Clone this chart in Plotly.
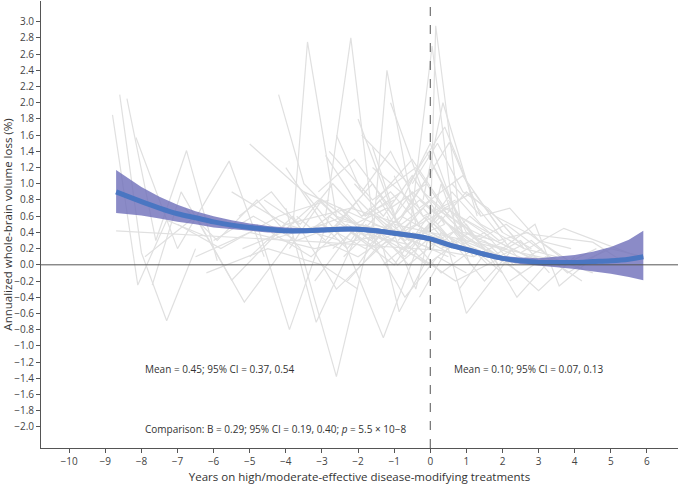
import plotly.graph_objects as go

# Individual patient trajectories (years, annualized loss %)
traj_years = [
    [-8.8, -8.1, -7.3, -6.2], [-8.6, -8.0, -7.3, -6.5], [-8.7, -6.0, -3.0, 0.2],
    [-8.4, -7.6, -6.75, -5.9], [-8.15, -7.0, -5.57, -4.6], [-7.7, -6.9, -5.5, -4.0, -2.5],
    [-7.9, -6.5, -5.15, -3.8], [-5.0, -3.5, -2.0, -0.5], [-4.2, -3.5, -2.5, -1.0, 0.5],
    [-2.9, -1.8, -0.8, 0.6], [-4.8, -3.9, -2.8, -1.5], [-4.0, -3.16, -2.0, -0.6],
    [-3.6, -2.6, -1.6, 0.0], [0.0, 0.15, 0.9, 2.0], [-0.6, 0.05, 0.7, 1.6],
    [-1.6, -1.2, -0.4, 0.8], [-3.8, -3.4, -2.6, -1.4], [-2.9, -2.2, -1.5, -0.4],
    [-1.6, -0.9, 0.53, 1.3, 2.4], [-1.3, -0.86, 0.3, 1.5], [-0.5, 0.5, 1.0, 2.2],
    [1.5, 2.2, 3.0, 4.0], [2.0, 2.9, 3.57, 4.4], [1.8, 2.74, 4.5, 5.3],
    [2.5, 3.7, 5.7], [-0.1, 0.8, 1.8, 3.2], [-6.5, -5.0, -3.2, -1.5],
    [-5.5, -4.0, -2.2, -0.8], [-6.2, -4.5, -3.0, -2.0], [-4.5, -3.0, -1.8, -0.3, 1.0],
    [-3.0, -2.0, -1.0, 0.0, 1.2], [-2.5, -1.5, -0.5, 0.5, 1.5], [-2.0, -1.2, -0.3, 0.7, 2.0],
    [-1.8, -0.7, 0.2, 1.1, 2.5], [-3.5, -2.4, -1.3, -0.2, 0.9], [-1.0, -0.2, 0.6, 1.4, 2.6],
    [-2.2, -1.4, -0.6, 0.3, 1.2, 2.1], [-0.8, 0.1, 1.0, 1.9, 3.0], [-1.5, -0.5, 0.4, 1.6],
    [-4.0, -2.8, -1.6, -0.6, 0.4], [0.2, 1.0, 1.8, 2.6, 3.5], [0.5, 1.3, 2.1, 3.3, 4.5],
    [-0.3, 0.6, 1.5, 2.3], [-5.0, -3.8, -2.6, -1.2, 0.0], [-7.0, -5.8, -4.2, -2.8],
    [-2.6, -1.9, -1.1, -0.2, 0.7], [-1.2, -0.4, 0.3, 1.1], [-3.2, -2.2, -1.0, 0.1],
    [1.0, 1.9, 2.8, 3.8, 4.9], [3.0, 4.0, 5.0, 5.9], [-0.7, 0.4, 1.2, 2.0, 2.8],
    [-2.0, -1.0, 0.0, 0.9], [-0.2, 0.35, 1.3], [-1.1, -0.2, 0.8, 1.7],
    [-5.3, -4.4, -3.5, -2.4, -1.3], [-6.8, -5.9, -4.8, -3.6], [-3.9, -3.0, -2.1, -1.2, -0.3],
    [-1.4, -0.6, 0.2, 1.0, 1.8], [0.8, 1.6, 2.4, 3.2], [2.2, 3.2, 4.2],
    [-3.0, -2.3, -1.5, -0.7, 0.1, 0.9], [-2.4, -1.7, -0.9, -0.1, 0.7],
    [-1.9, -1.1, -0.3, 0.5, 1.3, 2.1], [-3.4, -2.5, -1.7, -0.8, 0.0],
    [-2.7, -1.9, -1.0, -0.1, 0.8, 1.7], [-1.7, -0.8, 0.0, 0.9, 1.8, 2.7],
    [-4.4, -3.3, -2.3, -1.3, -0.4], [-0.9, -0.1, 0.7, 1.5, 2.3, 3.1],
    [-2.1, -1.3, -0.5, 0.4], [-3.7, -2.9, -2.0, -1.1, -0.2, 0.6],
    [-1.3, -0.5, 0.3, 1.2, 2.0], [0.1, 0.9, 1.7, 2.5, 3.3],
    [-2.8, -1.6, -0.4, 0.5], [-1.9, -0.6, 0.4, 1.4],
    [-4.6, -3.6, -2.7, -1.9, -1.0], [-0.4, 0.4, 1.1, 1.9, 2.7, 3.6],
    [-2.3, -1.5, -0.7, 0.2, 1.0], [-3.1, -2.1, -1.1, -0.1],
    [0.3, 1.1, 1.9, 2.8, 3.7, 4.6], [-1.6, -0.3, 0.9, 2.0],
    [-6.0, -4.9, -3.7, -2.5], [-5.2, -4.1, -3.1, -1.9],
    [0.6, 1.4, 2.2, 3.0, 3.9], [-0.5, 0.2, 0.9, 1.6, 2.4],
    [-1.0, 0.0, 1.0, 2.0, 3.0, 4.0],
]
traj_values = [
    [1.85, -0.25, 0.55, 0.35], [2.1, 0.15, -0.69, 0.2], [0.42, 0.35, 0.28, 0.18],
    [2.05, 0.3, 1.41, 0.05], [1.57, 0.2, 1.28, 0.1], [-0.25, 0.9, -0.19, 0.5, 0.3],
    [0.1, 0.6, -0.46, 0.35], [1.49, 0.9, 0.6, 0.3], [2.1, 1.0, 0.55, 0.4, 0.1],
    [1.35, 0.6, 0.9, 0.2], [0.5, -0.8, 0.6, 0.2], [0.7, -0.71, 0.4, 0.25],
    [0.2, -1.38, 0.5, 0.3], [0.4, 2.95, 0.3, 0.1], [0.3, 2.7, 0.4, 0.0],
    [0.3, 2.4, 0.5, 0.2], [0.5, 2.75, 0.6, 0.4], [0.6, 2.8, 0.2, 0.5],
    [1.45, 0.5, 1.51, 0.71, 0.1], [0.2, -0.58, 0.4, 0.1], [0.4, 0.2, -0.6, 0.1],
    [0.3, 0.0, -0.32, 0.1], [0.2, 0.5, -0.26, 0.05], [0.6, 0.38, 0.28, 0.05],
    [0.15, 0.45, 0.11], [1.39, 0.6, 0.3, 0.0], [0.1, 0.4, 0.2, 0.35],
    [0.9, 0.5, 0.7, 0.5], [-0.1, 0.2, 0.0, -0.3], [0.3, 0.5, 0.2, 0.8, 0.3],
    [0.3, 0.1, 0.4, 0.2, 0.1], [0.7, 0.3, 0.9, 0.5, 0.2], [0.0, 0.5, 0.1, -0.2, 0.1],
    [0.5, 0.1, 0.6, 0.3, -0.1], [0.9, 0.3, -0.9, 0.4, 0.2], [1.1, 0.4, 0.9, 0.5, 0.2],
    [0.3, 0.8, 0.2, 0.6, 0.1, 0.3], [0.6, 1.2, 0.4, 0.2, 0.0], [0.8, 1.3, 0.7, 0.4],
    [1.2, 0.4, 1.0, 0.3, 0.5], [0.5, 0.9, 0.6, 0.2, 0.1], [0.8, 0.3, 0.5, 0.1, -0.1],
    [-0.4, 0.3, -0.2, 0.2], [0.1, 0.6, -0.3, 0.3, 0.0], [0.5, 0.2, 0.6, 0.8],
    [1.6, 0.9, 1.4, 0.6, 0.8], [0.6, -0.3, 1.0, 0.0], [-0.2, 0.4, 0.0, 0.7],
    [0.4, 0.1, 0.3, -0.1, 0.2], [0.3, 0.0, 0.2, 0.1], [0.2, 0.7, 0.9, 0.4, 0.2],
    [1.8, 0.6, 1.5, 0.4], [0.8, 2.0, 0.6], [2.0, 0.9, 0.5, 0.3],
    [0.6, 0.9, 0.4, 0.6, 0.3], [0.7, 0.3, 0.8, 0.2], [0.2, 0.8, 0.5, 0.7, 0.2],
    [0.4, 0.0, 0.3, 0.5, 0.0], [-0.3, 0.2, -0.4, 0.0], [-0.2, 0.1, -0.2],
    [0.5, 0.2, 0.6, 0.3, 0.5, 0.2], [0.1, 0.4, 0.0, 0.3, 0.1],
    [0.6, 0.9, 0.5, 0.7, 0.3, 0.2], [0.4, 0.7, 0.3, 0.6, 0.4],
    [0.2, 0.5, 0.3, 0.0, 0.3, 0.1], [0.7, 0.4, 0.8, 0.4, 0.3, 0.1],
    [0.4, 0.1, 0.5, 0.2, 0.6], [0.3, 0.6, 0.2, 0.4, 0.0, 0.2],
    [1.0, 0.6, 1.1, 0.5], [0.6, 0.3, 0.8, 0.4, 0.7, 0.3],
    [0.0, 0.3, -0.1, 0.2, -0.1], [0.7, 0.5, 0.1, 0.3, -0.1],
    [1.4, 0.8, 1.2, 0.6], [1.6, 1.0, 1.7, 0.6],
    [0.8, 0.5, 1.0, 0.6, 0.8], [0.5, 0.3, 0.6, 0.3, 0.4, 0.1],
    [-0.2, 0.2, -0.4, 0.1, -0.1], [0.9, 1.3, 0.7, 1.0],
    [0.2, 0.4, 0.0, 0.1, 0.0, 0.2], [1.2, 0.7, 1.1, 0.4],
    [0.3, 0.6, 0.3, 0.5], [0.2, 0.4, 0.8, 0.3],
    [1.0, 0.6, 0.7, 0.3, 0.2], [1.0, 1.5, 0.9, 0.7, 0.3],
    [0.5, 0.4, 0.3, 0.2, 0.1, 0.0],
]

# Smoothed fit with 95% CI
fit_years = [-8.7, -8.0, -7.5, -7.0, -6.5, -6.0, -5.5, -5.0, -4.5, -4.0, -3.5, -3.0, -2.5,
             -2.0, -1.5, -1.0, -0.5, 0.0, 0.5, 1.0, 1.5, 2.0, 2.5, 3.0, 3.5, 4.0, 4.5, 5.0, 5.5, 5.9]
fit_mean = [0.90, 0.78, 0.70, 0.63, 0.58, 0.53, 0.49, 0.46, 0.44, 0.42, 0.42, 0.43, 0.44,
            0.44, 0.42, 0.39, 0.36, 0.32, 0.25, 0.19, 0.13, 0.08, 0.05, 0.03, 0.03, 0.03, 0.04, 0.05, 0.07, 0.10]
fit_lower = [0.64, 0.61, 0.57, 0.53, 0.50, 0.46, 0.44, 0.42, 0.40, 0.39, 0.39, 0.40, 0.41,
             0.41, 0.39, 0.36, 0.33, 0.29, 0.22, 0.16, 0.10, 0.05, 0.01, -0.01, -0.03, -0.05, -0.08, -0.11, -0.15, -0.19]
fit_upper = [1.17, 0.96, 0.84, 0.74, 0.66, 0.60, 0.55, 0.51, 0.48, 0.46, 0.45, 0.46, 0.47,
             0.47, 0.45, 0.42, 0.39, 0.35, 0.28, 0.22, 0.16, 0.11, 0.09, 0.08, 0.10, 0.12, 0.16, 0.22, 0.31, 0.42]

x_ticks = list(range(-10, 7))
y_ticks = [round(-2.0 + 0.2 * i, 1) for i in range(26)]

ann_texts = ["Mean = 0.45; 95% CI = 0.37, 0.54",
             "Mean = 0.10; 95% CI = 0.07, 0.13",
             "Comparison: B = 0.29; 95% CI = 0.19, 0.40; <i>p</i> = 5.5 × 10−8"]

fig = go.Figure()
for xs, ys in zip(traj_years, traj_values):
    fig.add_trace(go.Scatter(x=xs, y=ys, mode="lines",
                             line=dict(color="#e0e0e0", width=1.2),
                             hoverinfo="skip", showlegend=False))

fig.add_trace(go.Scatter(x=fit_years + fit_years[::-1], y=fit_upper + fit_lower[::-1],
                         fill="toself", fillcolor="rgba(110,110,185,0.8)",
                         line=dict(width=0), mode="lines", showlegend=False, hoverinfo="skip"))
fig.add_trace(go.Scatter(x=fit_years, y=fit_mean, mode="lines",
                         line=dict(color="#4a76c2", width=5, shape="spline"),
                         showlegend=False))

fig.add_shape(type="line", xref="paper", x0=0, x1=1, yref="y", y0=0, y1=0,
              line=dict(color="#555555", width=1))
fig.add_shape(type="line", xref="x", x0=0, x1=0, yref="paper", y0=0, y1=1,
              line=dict(color="#555555", width=1, dash="dash"))

fig.add_annotation(x=-5.81, y=-1.29, text=ann_texts[0], showarrow=False,
                   font=dict(size=10, color="#333333"))
fig.add_annotation(x=2.72, y=-1.29, text=ann_texts[1], showarrow=False,
                   font=dict(size=10, color="#333333"))
fig.add_annotation(x=-7.95, y=-2.03, text=ann_texts[2], showarrow=False, xanchor="left",
                   font=dict(size=10, color="#333333"))

fig.update_layout(
    width=680, height=484,
    margin=dict(l=41, r=2, t=1, b=36),
    plot_bgcolor="white", paper_bgcolor="white",
    font=dict(family="Open Sans", size=10, color="#444444"),
    xaxis=dict(range=[-10.78, 6.86], tickvals=x_ticks, showgrid=False, zeroline=False,
               showline=True, linecolor="#555555", linewidth=1,
               ticks="outside", ticklen=4, tickcolor="#555555",
               title=dict(text="Years on high/moderate-effective disease-modifying treatments",
                          font=dict(size=11.5, color="#333333"), standoff=6)),
    yaxis=dict(range=[-2.26, 3.255], tickvals=y_ticks, tickformat=".1f", showgrid=False,
               zeroline=False, showline=True, linecolor="#555555", linewidth=1,
               ticks="outside", ticklen=4, tickcolor="#555555",
               title=dict(text="Annualized whole-brain volume loss (%)",
                          font=dict(size=11.5, color="#333333"), standoff=4)),
)

fig.write_html("out.html", config={"displayModeBar": False},
               post_script="document.body.style.margin='0';document.body.style.padding='0';")
